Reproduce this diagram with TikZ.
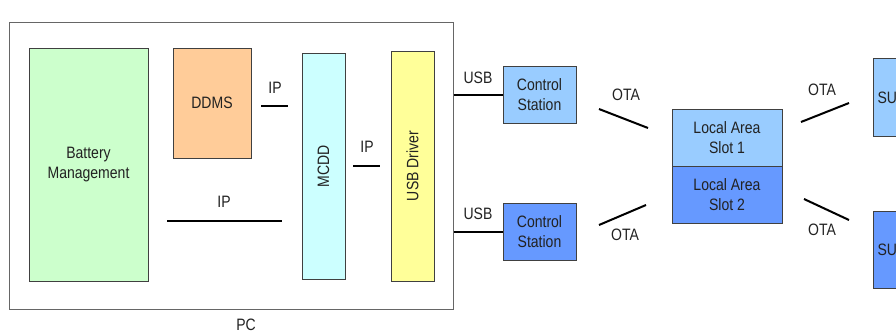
\documentclass[tikz,border=0pt]{standalone}
\usepackage{fontspec}
\setmainfont{Liberation Sans}[FakeStretch=0.85]
\definecolor{edge}{HTML}{404040}
\definecolor{txt}{HTML}{222222}
\definecolor{cgreen}{HTML}{CCFFCC}
\definecolor{corange}{HTML}{FFCC99}
\definecolor{ccyan}{HTML}{CCFFFF}
\definecolor{cyellow}{HTML}{FFFF99}
\definecolor{lblue}{HTML}{99CCFF}
\definecolor{dblue}{HTML}{6699FF}
\begin{document}
\begin{tikzpicture}[x=1pt,y=-1pt,
  font=\fontsize{16.5}{20}\selectfont, text=txt,
  box/.style={draw=edge, line width=1pt, inner sep=0pt, align=center},
  wire/.style={line width=2pt, draw=black},
  lbl/.style={inner sep=0pt}]
\clip (0,0) rectangle (896,335);
% PC frame
\node[box, draw=edge!80, minimum width=444, minimum height=287] (pc) at (231,165.5) {};
\node[lbl] (pclbl) at (246,325) {PC};
% PC internals
\node[box, fill=cgreen, minimum width=119, minimum height=233] (bat) at (88.5,164.5) {Battery\\Management};
\node[box, fill=corange, minimum width=78, minimum height=110] (ddms) at (212,103) {DDMS};
\node[box, fill=ccyan, minimum width=43, minimum height=226] (mcdd) at (323.5,166) {};
\node[lbl, rotate=90] (mcddt) at (mcdd.center) {MCDD};
\node[box, fill=cyellow, minimum width=43, minimum height=230] (usbd) at (412.5,166) {};
\node[lbl, rotate=90] (usbdt) at (usbd.center) {USB Driver};
% IP links
\coordinate (ip1a) at (261,106); \coordinate (ip1b) at (288,106);
\draw[wire] (ip1a) -- (ip1b);
\node[lbl] (ip1) at (275,88) {IP};
\coordinate (ip2a) at (167,221); \coordinate (ip2b) at (282,221);
\draw[wire] (ip2a) -- (ip2b);
\node[lbl] (ip2) at (224,202) {IP};
\coordinate (ip3a) at (353,166); \coordinate (ip3b) at (380,166);
\draw[wire] (ip3a) -- (ip3b);
\node[lbl] (ip3) at (367,147) {IP};
% control stations
\node[box, fill=lblue, minimum width=73, minimum height=57] (cs1) at (539.5,94.5) {Control\\Station};
\node[box, fill=dblue, minimum width=73, minimum height=57] (cs2) at (539.5,231.5) {Control\\Station};
\draw[wire] (pc.east |- cs1.west) -- (cs1.west);
\draw[wire] (pc.east |- cs2.west) -- (cs2.west);
\node[lbl] (usb1) at (478,78) {USB};
\node[lbl] (usb2) at (478,214) {USB};
% local area
\node[box, fill=lblue, minimum width=110, minimum height=57] (la1) at (727,137.5) {Local Area\\Slot 1};
\node[box, fill=dblue, minimum width=110, minimum height=57] (la2) at (727,194.5) {Local Area\\Slot 2};
% SU boxes
\node[box, fill=lblue, minimum width=60, minimum height=78, anchor=north west, text width=52, align=left, inner xsep=4pt] (su1) at (873,58) {SU};
\node[box, fill=dblue, minimum width=60, minimum height=77, anchor=north west, text width=52, align=left, inner xsep=4pt] (su2) at (873,211) {SU};
% OTA links
\coordinate (o1a) at (599,109); \coordinate (o1b) at (648,128);
\draw[wire] (o1a) -- (o1b);
\node[lbl] (ota1) at (626,95) {OTA};
\coordinate (o2a) at (599,225); \coordinate (o2b) at (646,205);
\draw[wire] (o2a) -- (o2b);
\node[lbl] (ota2) at (625,235) {OTA};
\coordinate (o3a) at (801,122); \coordinate (o3b) at (849,103);
\draw[wire] (o3a) -- (o3b);
\node[lbl] (ota3) at (822,90) {OTA};
\coordinate (o4a) at (804,199); \coordinate (o4b) at (849,220);
\draw[wire] (o4a) -- (o4b);
\node[lbl] (ota4) at (822,230) {OTA};
\end{tikzpicture}
\end{document}
